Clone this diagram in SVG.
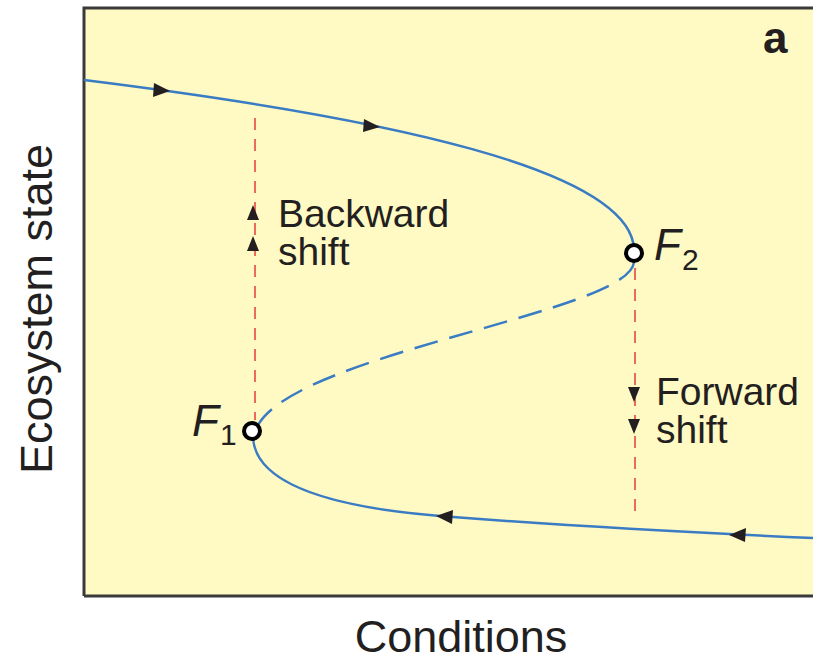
<svg xmlns="http://www.w3.org/2000/svg" width="813" height="657" viewBox="0 0 813 657">
<style>
.t{font-family:"Liberation Sans",Arial,sans-serif;fill:#231f20}
.curve{fill:none;stroke:#3a7cc4;stroke-width:2.5}
.red{fill:none;stroke:#ec6a5c;stroke-width:2;stroke-dasharray:12 9}
.tri{fill:#231f20}
.pt{fill:#fff;stroke:#000;stroke-width:4}
</style>
<rect x="0" y="0" width="813" height="657" fill="#fff"/>
<rect x="84" y="8" width="740" height="588" fill="#fff9c4"/>
<path d="M84,596 L84,8 L813,8 M84,596 L813,596" fill="none" stroke="#3a3a3a" stroke-width="3"/>
<g id="connectors">
<path class="red" d="M255,118 L255,420"/>
<path class="red" d="M635,268 L635,516"/>
<path class="curve" d="M84,80 C390,118 630,170 634,249"/>
<path class="curve" d="M634,262 C630,312 300,352 258,425" stroke-dasharray="24 12"/>
<path class="curve" d="M253,438 C256,484 330,507 440,516 C580,527 700,533 813,538"/>
<path class="tri" d="M154,83 L170,91 L153,97 Z"/>
<path class="tri" d="M364,119 L380,127 L363,132 Z"/>
<path class="tri" d="M453,510 L436,516 L452,524 Z"/>
<path class="tri" d="M746,528 L729,535 L745,542 Z"/>
<path class="tri" d="M247,220 L253,205 L259,220 Z"/>
<path class="tri" d="M247,251 L253,236 L259,251 Z"/>
<path class="tri" d="M628,387 L634,402 L640,387 Z"/>
<path class="tri" d="M628,419 L634,434 L640,419 Z"/>
</g>
<g id="F2"><circle class="pt" cx="634" cy="253" r="8"/>
<text class="t" x="654" y="260" font-size="44" font-style="italic">F</text><text class="t" x="682" y="270" font-size="30">2</text></g>
<g id="F1"><circle class="pt" cx="252" cy="431" r="8"/>
<text class="t" x="192" y="436" font-size="44" font-style="italic">F</text><text class="t" x="220" y="445" font-size="30">1</text></g>
<g id="backward"><text class="t" font-size="39"><tspan x="278" y="227">Backward</tspan><tspan x="278" y="265">shift</tspan></text></g>
<g id="forward"><text class="t" font-size="39"><tspan x="656" y="405">Forward</tspan><tspan x="656" y="443">shift</tspan></text></g>
<text class="t" x="461" y="652" font-size="45" text-anchor="middle">Conditions</text>
<text class="t" font-size="45" text-anchor="middle" transform="translate(52,309) rotate(-90)">Ecosystem state</text>
<text class="t" x="763" y="53" font-size="44" font-weight="bold">a</text>
</svg>
